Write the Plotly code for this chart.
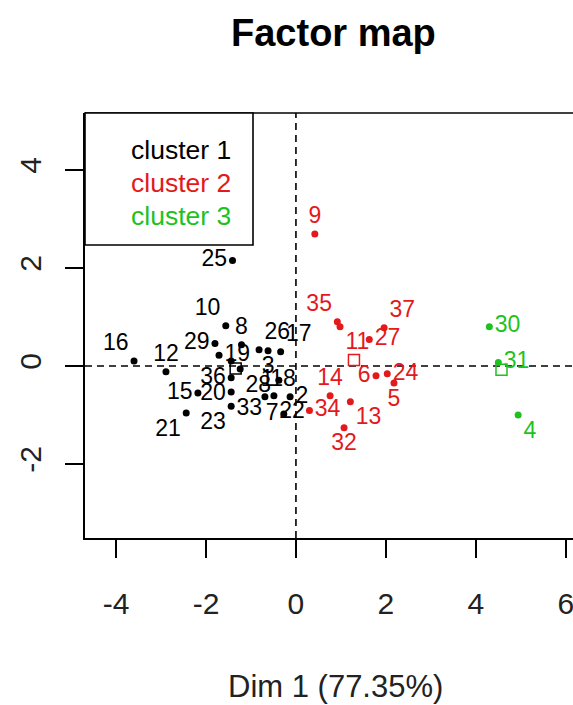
import plotly.graph_objects as go

# ---------------- data ----------------
c1_labels = ["16", "12", "10", "29", "19", "8", "26", "3", "17", "36", "28",
             "20", "33", "23", "15", "21", "25", "1", "2", "7", "22", "18"]
c1_x = [-3.60, -2.89, -1.56, -1.80, -1.71, -1.21, -0.82, -0.62, -0.34, -1.44, -1.24,
        -1.44, -1.44, -1.44, -2.18, -2.44, -1.41, -0.38, -0.13, -0.27, -0.49, -0.69]
c1_y = [0.10, -0.12, 0.82, 0.46, 0.22, 0.43, 0.33, 0.31, 0.29, 0.10, -0.06,
        -0.24, -0.53, -0.82, -0.55, -0.96, 2.15, -0.29, -0.63, -0.98, -0.61, -0.63]

c2_labels = ["9", "35", "11", "27", "37", "6", "24", "5", "14", "34", "13", "32"]
c2_x = [0.42, 0.92, 0.98, 1.63, 1.96, 1.78, 2.03, 2.18, 0.76, 0.30, 1.21, 1.07]
c2_y = [2.69, 0.90, 0.80, 0.54, 0.78, -0.20, -0.16, -0.35, -0.61, -0.91, -0.73, -1.26]

c3_labels = ["30", "31", "4"]
c3_x = [4.30, 4.50, 4.94]
c3_y = [0.80, 0.07, -1.00]

center_x = [-1.34, 1.29, 4.57]
center_y = [-0.05, 0.12, -0.08]

cluster_names = ["cluster 1", "cluster 2", "cluster 3"]
x_ticks = [-4, -2, 0, 2, 4, 6]
x_tick_text = ["-4", "-2", "0", "2", "4", "6"]
y_ticks = [-2, 0, 2, 4]
y_tick_text = ["-2", "0", "2", "4"]

# ---------------- styling ----------------
FONT = "Liberation Sans, Arial, sans-serif"
COLORS = ["#000000", "#E3191C", "#1EC21E"]

c1_pos = ["top left", "top center", "top left", "middle left", "middle right", "top center",
          "top right", "bottom center", "top right", "bottom left", "bottom right",
          "bottom left", "bottom right", "bottom left", "middle left", "bottom left",
          "middle left", "middle left", "middle right", "middle left", "bottom right", "top right"]
c2_pos = ["top center", "top left", "bottom right", "middle right", "top right", "middle left",
          "middle right", "bottom center", "top center", "middle right", "bottom right",
          "bottom center"]
c3_pos = ["middle right", "middle right", "bottom right"]

W, H = 573, 705
L, R, T, B = 85, 0, 113, 705 - 538
pw, ph = W - L - R, H - T - B


def px_to_paper_x(px):
    return (px - L) / pw


def px_to_paper_y(py):
    return (H - B - py) / ph


fig = go.Figure()

groups = [(c1_x, c1_y, c1_labels, c1_pos), (c2_x, c2_y, c2_labels, c2_pos),
          (c3_x, c3_y, c3_labels, c3_pos)]
for i, (xs, ys, labs, pos) in enumerate(groups):
    fig.add_trace(go.Scatter(
        x=xs, y=ys, text=labs, mode="markers+text", textposition=pos,
        marker=dict(color=COLORS[i], size=7),
        textfont=dict(family=FONT, size=23, color=COLORS[i]),
        showlegend=False, hoverinfo="text"))

fig.add_trace(go.Scatter(
    x=center_x, y=center_y, mode="markers",
    marker=dict(symbol="square-open", size=11, color=COLORS, line=dict(width=1.5, color=COLORS)),
    showlegend=False, hoverinfo="skip"))

shapes = [
    dict(type="line", xref="x", yref="paper", x0=0, x1=0, y0=0, y1=1,
         line=dict(color="black", width=1.6, dash="7px,5px"), layer="below"),
    dict(type="line", xref="paper", yref="y", x0=0, x1=1, y0=0, y1=0,
         line=dict(color="black", width=1.6, dash="7px,5px"), layer="below"),
    dict(type="line", xref="paper", yref="paper", x0=0, x1=1, y0=1, y1=1,
         line=dict(color="black", width=1.6)),
    dict(type="rect", xref="paper", yref="paper",
         x0=0, x1=px_to_paper_x(253), y0=px_to_paper_y(245), y1=1,
         fillcolor="white", line=dict(color="black", width=1.6), layer="above"),
]

annotations = []
for i, name in enumerate(cluster_names):
    annotations.append(dict(
        text=name, xref="paper", yref="paper", x=px_to_paper_x(129),
        y=px_to_paper_y([150, 183, 216][i]), xanchor="left", yanchor="middle",
        showarrow=False, font=dict(family=FONT, size=26.5, color=COLORS[i])))

annotations.append(dict(
    text="<b>Factor map</b>", xref="paper", yref="paper", x=px_to_paper_x(333),
    y=px_to_paper_y(33), xanchor="center", yanchor="middle", showarrow=False,
    font=dict(family=FONT, size=38, color="black")))
annotations.append(dict(
    text="Dim 1 (77.35%)", xref="paper", yref="paper", x=px_to_paper_x(335),
    y=px_to_paper_y(686), xanchor="center", yanchor="middle", showarrow=False,
    font=dict(family=FONT, size=31, color="#222222")))

axis_common = dict(
    showgrid=False, zeroline=False, showline=True, linecolor="black", linewidth=1.6,
    ticks="outside", ticklen=18, tickwidth=1.6, tickcolor="black",
    tickfont=dict(family=FONT, size=30, color="#222222"), mirror=False,
    ticklabeloverflow="allow")

fig.update_layout(
    width=W, height=H, margin=dict(l=L, r=R, t=T, b=B, pad=0),
    paper_bgcolor="white", plot_bgcolor="white",
    xaxis=dict(range=[-4.69, 6.16], tickvals=x_ticks, ticktext=x_tick_text,
               ticklabelstandoff=20, **axis_common),
    yaxis=dict(range=[-3.51, 5.16], tickvals=y_ticks, ticktext=y_tick_text, tickangle=-90,
               ticklabelstandoff=12, **axis_common),
    shapes=shapes, annotations=annotations, showlegend=False)

fig.write_html(
    "out.html",
    config={"displayModeBar": False},
    post_script="document.body.style.margin='0';document.body.style.overflow='hidden';")
